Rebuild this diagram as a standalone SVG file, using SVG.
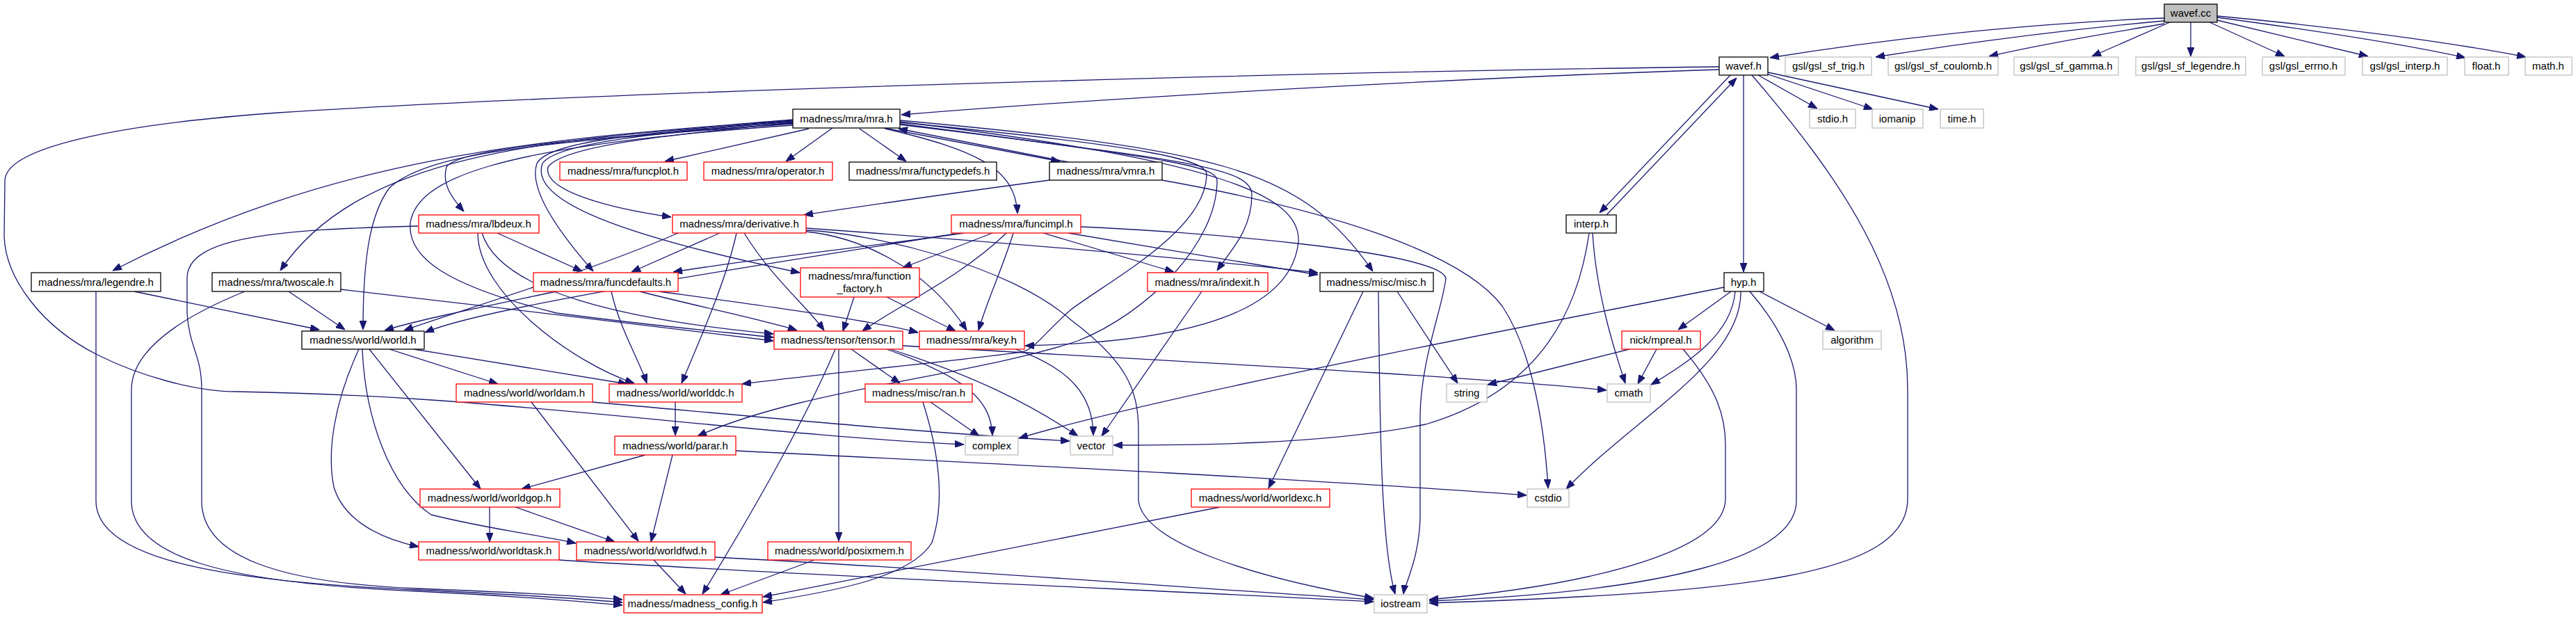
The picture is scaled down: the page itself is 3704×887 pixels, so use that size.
<svg xmlns="http://www.w3.org/2000/svg" width="3704" height="887" viewBox="0 0 3704 887">
<style>
.n rect{fill:#fff;stroke-width:1.3}
.b rect{stroke:#000}
.r rect{stroke:#ff0000}
.g rect{stroke:#bfbfbf}
.root rect{fill:#bfbfbf;stroke:#000}
text{font-family:"Liberation Sans",Arial,sans-serif;font-size:15px;fill:#000;text-anchor:middle}
#edges path{fill:none;stroke:#191970;stroke-width:1.3;marker-end:url(#a)}
</style>
<defs>
<marker id="a" markerWidth="13" markerHeight="10" refX="13" refY="5" orient="auto" markerUnits="userSpaceOnUse"><path d="M0,0 L13,5 L0,10 z" fill="#191970" stroke="#191970"/></marker>
</defs>
<rect width="3704" height="887" fill="#fff"/>
<g id="edges">
<path d="M3112,26 C2950,32 2750,50 2545,83"/>
<path d="M3112,30 C3000,40 2850,58 2697,82"/>
<path d="M3112,34 C3050,45 2950,60 2860,81"/>
<path d="M3120,32 L3008,81"/>
<path d="M3150,32 L3150,81"/>
<path d="M3177,32 L3285,81"/>
<path d="M3188,29 L3405,81"/>
<path d="M3188,25 C3300,40 3450,62 3545,83"/>
<path d="M3188,23 C3350,38 3520,60 3632,82"/>
<path d="M2472,100 C2100,112 1600,140 1296,165"/>
<path d="M2472,96 C1900,103 900,130 400,162 C150,180 7,215 7,260 L6,340 C8,400 60,470 140,510 C200,540 280,563 340,563 C450,565 520,568 620,575 C900,595 1150,628 1386,639"/>
<path d="M2488,108 L2300,306"/>
<path d="M2310,309 L2497,112"/>
<path d="M2507,108 L2507,391"/>
<path d="M2528,108 L2613,156"/>
<path d="M2540,106 L2693,157"/>
<path d="M2542,104 L2787,157"/>
<path d="M2519,108 C2650,260 2743,400 2743,560 L2743,717 C2743,830 2500,852 2055,867"/>
<path d="M2489,419 L2413,474"/>
<path d="M2530,419 L2638,475"/>
<path d="M2495,419 C2490,480 2430,520 2374,553"/>
<path d="M2503,419 C2505,520 2350,600 2252,703"/>
<path d="M2516,419 C2560,470 2583,520 2583,560 L2583,720 C2583,800 2400,850 2055,864"/>
<path d="M2479,413 C2300,450 1700,560 1465,630"/>
<path d="M2343,502 L2139,553"/>
<path d="M2382,502 L2355,552"/>
<path d="M2420,502 C2470,560 2481,600 2481,640 L2481,717 C2481,790 2300,840 2055,862"/>
<path d="M2290,335 C2295,420 2320,500 2337,551"/>
<path d="M2285,335 C2270,440 2220,560 2050,610 C1900,640 1700,640 1601,640"/>
<path d="M1960,419 L1824,702"/>
<path d="M1982,419 C1984,600 1985,780 2006,854"/>
<path d="M2009,419 L2096,551"/>
<path d="M1671,259 C1900,300 2100,360 2160,440 C2200,500 2220,600 2226,702"/>
<path d="M1509,259 C1350,280 1250,295 1156,309"/>
<path d="M1554,326 C1700,332 2070,360 2079,400 C2075,440 2042,520 2042,600 L2042,740 C2042,800 2020,840 2018,854"/>
<path d="M1500,335 L1688,391"/>
<path d="M1427,335 L1298,385"/>
<path d="M1536,335 C1650,355 1800,378 1895,395"/>
<path d="M1457,335 C1440,390 1420,430 1407,475"/>
<path d="M1447,335 C1380,400 1290,440 1240,476"/>
<path d="M1386,335 C1250,355 1100,370 968,391"/>
<path d="M1374,336 C1100,380 700,440 611,478"/>
<path d="M1163,185 L956,232"/>
<path d="M1197,184 L1130,232"/>
<path d="M1236,185 L1303,232"/>
<path d="M1271,184 L1524,232"/>
<path d="M1536,233 L1292,185"/>
<path d="M1273,185 C1400,215 1460,240 1463,307"/>
<path d="M1140,176 C950,195 810,210 788,240 C780,275 880,300 965,312"/>
<path d="M1140,178 C900,195 660,210 642,240 C635,265 650,285 667,304"/>
<path d="M1140,174 C950,190 790,200 772,235 C760,270 800,330 853,390"/>
<path d="M1140,175 C950,190 800,205 780,235 C760,290 900,340 1150,392"/>
<path d="M1140,172 C800,200 500,215 162,389"/>
<path d="M1140,173 C800,200 520,215 403,389"/>
<path d="M1140,177 C800,205 620,215 560,270 C530,310 522,380 522,474"/>
<path d="M1140,180 C700,210 600,260 590,320 C585,370 640,410 800,450 C950,470 1050,478 1112,485"/>
<path d="M1294,176 C1650,210 1735,230 1735,250 C1735,330 1600,400 1540,445 C1500,480 1490,500 1470,506 C1350,522 1200,535 1067,552"/>
<path d="M1294,178 C1700,230 1750,240 1750,260 C1750,350 1650,450 1550,490 C1400,540 1150,560 1003,627"/>
<path d="M1294,179 C1700,230 1800,240 1800,280 C1800,330 1770,360 1750,389"/>
<path d="M1294,175 C1750,230 1870,280 1867,347 C1860,420 1780,490 1474,497"/>
<path d="M1294,173 C1750,215 1870,240 1974,390"/>
<path d="M1159,328 C1400,345 1700,370 1895,392"/>
<path d="M1159,331 C1250,335 1450,380 1540,460 C1620,520 1637,560 1637,620 L1637,720 C1645,780 1800,830 1975,860"/>
<path d="M1159,333 C1230,340 1330,380 1390,475"/>
<path d="M1035,335 L908,391"/>
<path d="M1059,335 C1045,400 1010,480 980,551"/>
<path d="M1070,335 C1110,400 1160,440 1185,475"/>
<path d="M975,335 C850,390 650,450 581,475"/>
<path d="M715,335 L837,390"/>
<path d="M687,335 C687,420 820,520 912,551"/>
<path d="M693,335 C720,420 900,460 1112,480"/>
<path d="M601,325 C400,330 269,340 269,400 L269,450 C272,500 290,510 290,560 L290,720 C290,800 400,838 600,846 C750,852 850,858 895,862"/>
<path d="M138,419 L138,720 C138,800 300,835 600,848 C750,855 850,862 895,866"/>
<path d="M352,419 C300,440 189,490 189,560 L189,720 C189,800 320,838 600,850 C750,857 850,866 895,870"/>
<path d="M193,419 L459,474"/>
<path d="M415,419 L496,474"/>
<path d="M490,416 C700,440 950,470 1112,490"/>
<path d="M800,419 C700,440 600,460 553,475"/>
<path d="M879,419 C890,470 920,520 930,551"/>
<path d="M920,419 C1000,440 1100,460 1146,475"/>
<path d="M948,419 C1100,440 1250,460 1320,478"/>
<path d="M1228,427 L1212,476"/>
<path d="M1275,427 L1374,476"/>
<path d="M516,502 C480,580 470,650 480,700 C495,750 550,775 602,786"/>
<path d="M521,502 C525,600 560,700 620,740 C700,760 780,770 828,781"/>
<path d="M531,502 L691,703"/>
<path d="M560,502 L716,552"/>
<path d="M595,502 L902,552"/>
<path d="M764,578 L918,778"/>
<path d="M852,578 C1100,600 1300,620 1538,634"/>
<path d="M971,578 L971,626"/>
<path d="M928,654 L750,703"/>
<path d="M967,654 L936,779"/>
<path d="M1058,648 C1500,670 1900,690 2195,712"/>
<path d="M704,729 L704,779"/>
<path d="M741,729 L884,779"/>
<path d="M804,805 C1200,830 1700,850 1975,865"/>
<path d="M940,805 L986,854"/>
<path d="M1028,801 C1400,820 1700,845 1975,862"/>
<path d="M1171,805 L1036,855"/>
<path d="M1754,729 C1500,780 1300,820 1097,858"/>
<path d="M1206,502 L1206,778"/>
<path d="M1224,502 L1294,551"/>
<path d="M1275,502 C1380,540 1425,570 1427,626"/>
<path d="M1280,502 C1400,540 1480,580 1550,627"/>
<path d="M1298,497 C1700,520 2100,540 2310,561"/>
<path d="M1201,502 C1160,600 1080,740 1010,854"/>
<path d="M1338,578 L1408,627"/>
<path d="M1327,578 C1350,650 1360,720 1340,780 C1310,830 1200,850 1097,866"/>
<path d="M1460,502 C1540,530 1572,570 1572,626"/>
<path d="M1728,419 L1584,627"/>
</g>
<g id="wavef_cc" class="n root"><rect x="3112" y="6" width="76" height="26"/><text x="3150" y="24">wavef.cc</text></g>
<g id="wavef_h" class="n b"><rect x="2472" y="82" width="70" height="26"/><text x="2507" y="100">wavef.h</text></g>
<g id="gsl_sf_trig" class="n g"><rect x="2567" y="82" width="124" height="26"/><text x="2629" y="100">gsl/gsl_sf_trig.h</text></g>
<g id="gsl_sf_coulomb" class="n g"><rect x="2715" y="82" width="158" height="26"/><text x="2794" y="100">gsl/gsl_sf_coulomb.h</text></g>
<g id="gsl_sf_gamma" class="n g"><rect x="2896" y="82" width="150" height="26"/><text x="2971" y="100">gsl/gsl_sf_gamma.h</text></g>
<g id="gsl_sf_legendre" class="n g"><rect x="3071" y="82" width="158" height="26"/><text x="3150" y="100">gsl/gsl_sf_legendre.h</text></g>
<g id="gsl_errno" class="n g"><rect x="3253" y="82" width="119" height="26"/><text x="3312" y="100">gsl/gsl_errno.h</text></g>
<g id="gsl_interp" class="n g"><rect x="3397" y="82" width="122" height="26"/><text x="3458" y="100">gsl/gsl_interp.h</text></g>
<g id="float_h" class="n g"><rect x="3544" y="82" width="63" height="26"/><text x="3575" y="100">float.h</text></g>
<g id="math_h" class="n g"><rect x="3631" y="82" width="67" height="26"/><text x="3664" y="100">math.h</text></g>
<g id="mra_h" class="n b"><rect x="1140" y="157" width="154" height="27"/><text x="1217" y="176">madness/mra/mra.h</text></g>
<g id="stdio_h" class="n g"><rect x="2602" y="157" width="66" height="27"/><text x="2635" y="176">stdio.h</text></g>
<g id="iomanip" class="n g"><rect x="2692" y="157" width="73" height="27"/><text x="2728" y="176">iomanip</text></g>
<g id="time_h" class="n g"><rect x="2790" y="157" width="62" height="27"/><text x="2821" y="176">time.h</text></g>
<g id="funcplot" class="n r"><rect x="805" y="233" width="183" height="26"/><text x="896" y="251">madness/mra/funcplot.h</text></g>
<g id="operator" class="n r"><rect x="1012" y="233" width="185" height="26"/><text x="1104" y="251">madness/mra/operator.h</text></g>
<g id="functypedefs" class="n b"><rect x="1221" y="233" width="212" height="26"/><text x="1327" y="251">madness/mra/functypedefs.h</text></g>
<g id="vmra" class="n b"><rect x="1509" y="233" width="162" height="26"/><text x="1590" y="251">madness/mra/vmra.h</text></g>
<g id="lbdeux" class="n r"><rect x="602" y="309" width="173" height="26"/><text x="688" y="327">madness/mra/lbdeux.h</text></g>
<g id="derivative" class="n r"><rect x="967" y="309" width="192" height="26"/><text x="1063" y="327">madness/mra/derivative.h</text></g>
<g id="funcimpl" class="n r"><rect x="1368" y="309" width="186" height="26"/><text x="1461" y="327">madness/mra/funcimpl.h</text></g>
<g id="interp" class="n b"><rect x="2252" y="309" width="72" height="26"/><text x="2288" y="327">interp.h</text></g>
<g id="legendre" class="n b"><rect x="45" y="392" width="186" height="27"/><text x="138" y="411">madness/mra/legendre.h</text></g>
<g id="twoscale" class="n b"><rect x="305" y="392" width="185" height="27"/><text x="397" y="411">madness/mra/twoscale.h</text></g>
<g id="funcdefaults" class="n r"><rect x="767" y="392" width="208" height="27"/><text x="871" y="411">madness/mra/funcdefaults.h</text></g>
<g id="function_factory" class="n r"><rect x="1151" y="385" width="171" height="42"/><text x="1236" y="402">madness/mra/function</text><text x="1236" y="420">_factory.h</text></g>
<g id="indexit" class="n r"><rect x="1650" y="392" width="173" height="27"/><text x="1736" y="411">madness/mra/indexit.h</text></g>
<g id="misc" class="n b"><rect x="1898" y="392" width="163" height="27"/><text x="1979" y="411">madness/misc/misc.h</text></g>
<g id="hyp" class="n b"><rect x="2479" y="392" width="57" height="27"/><text x="2507" y="411">hyp.h</text></g>
<g id="world" class="n b"><rect x="434" y="476" width="176" height="26"/><text x="522" y="494">madness/world/world.h</text></g>
<g id="tensor" class="n r"><rect x="1113" y="476" width="185" height="26"/><text x="1205" y="494">madness/tensor/tensor.h</text></g>
<g id="key" class="n r"><rect x="1322" y="476" width="151" height="26"/><text x="1397" y="494">madness/mra/key.h</text></g>
<g id="mpreal" class="n r"><rect x="2332" y="476" width="113" height="26"/><text x="2388" y="494">nick/mpreal.h</text></g>
<g id="algorithm" class="n g"><rect x="2621" y="476" width="84" height="26"/><text x="2663" y="494">algorithm</text></g>
<g id="worldam" class="n r"><rect x="656" y="552" width="196" height="26"/><text x="754" y="570">madness/world/worldam.h</text></g>
<g id="worlddc" class="n r"><rect x="876" y="552" width="191" height="26"/><text x="971" y="570">madness/world/worlddc.h</text></g>
<g id="ran" class="n r"><rect x="1244" y="552" width="154" height="26"/><text x="1321" y="570">madness/misc/ran.h</text></g>
<g id="string" class="n g"><rect x="2080" y="552" width="58" height="26"/><text x="2109" y="570">string</text></g>
<g id="cmath" class="n g"><rect x="2311" y="552" width="62" height="26"/><text x="2342" y="570">cmath</text></g>
<g id="parar" class="n r"><rect x="884" y="627" width="174" height="27"/><text x="971" y="646">madness/world/parar.h</text></g>
<g id="complex" class="n g"><rect x="1388" y="627" width="76" height="27"/><text x="1426" y="646">complex</text></g>
<g id="vector" class="n g"><rect x="1539" y="627" width="61" height="27"/><text x="1569" y="646">vector</text></g>
<g id="worldgop" class="n r"><rect x="604" y="703" width="201" height="26"/><text x="704" y="721">madness/world/worldgop.h</text></g>
<g id="worldexc" class="n r"><rect x="1713" y="703" width="199" height="26"/><text x="1812" y="721">madness/world/worldexc.h</text></g>
<g id="cstdio" class="n g"><rect x="2196" y="703" width="60" height="26"/><text x="2226" y="721">cstdio</text></g>
<g id="worldtask" class="n r"><rect x="602" y="779" width="202" height="26"/><text x="703" y="797">madness/world/worldtask.h</text></g>
<g id="worldfwd" class="n r"><rect x="829" y="779" width="199" height="26"/><text x="928" y="797">madness/world/worldfwd.h</text></g>
<g id="posixmem" class="n r"><rect x="1104" y="779" width="206" height="26"/><text x="1207" y="797">madness/world/posixmem.h</text></g>
<g id="madness_config" class="n r"><rect x="897" y="855" width="199" height="26"/><text x="996" y="873">madness/madness_config.h</text></g>
<g id="iostream" class="n g"><rect x="1976" y="855" width="76" height="26"/><text x="2014" y="873">iostream</text></g>
</svg>
